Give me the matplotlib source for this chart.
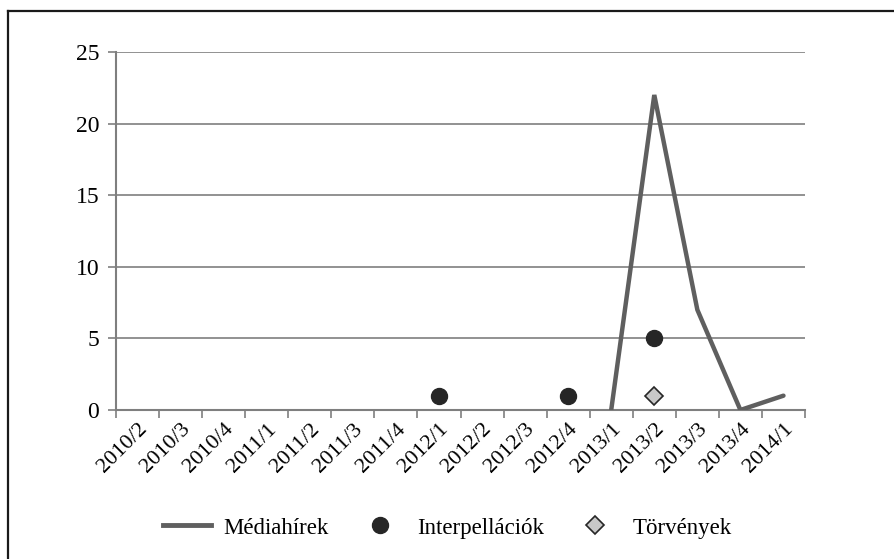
import matplotlib
matplotlib.use("Agg")
import matplotlib.pyplot as plt
import numpy as np
from matplotlib.lines import Line2D

categories = ["2010/2", "2010/3", "2010/4", "2011/1", "2011/2", "2011/3", "2011/4",
              "2012/1", "2012/2", "2012/3", "2012/4", "2013/1", "2013/2", "2013/3",
              "2013/4", "2014/1"]
media = [None]*11 + [0, 22, 7, 0, 1]
interp = [None]*7 + [1, None, None, 1, None, 5, None, None, None]
torv = [None]*12 + [1, None, None, None]
legend_labels = ["Médiahírek", "Interpellációk", "Törvények"]

plt.rcParams['font.family'] = ['Liberation Serif', 'DejaVu Serif']

W, H = 894, 559
fig = plt.figure(figsize=(W/100, H/100), dpi=100)
ax = fig.add_axes([116/W, 1-410/H, (805-116)/W, (410-52)/H])

x = np.arange(len(categories))
m = np.array([np.nan if v is None else v for v in media], float)
ip = np.array([np.nan if v is None else v for v in interp], float)
tv = np.array([np.nan if v is None else v for v in torv], float)

ax.plot(x, m, color="#5f5f5f", lw=3.2, solid_capstyle="round", solid_joinstyle="miter", zorder=3)
ax.plot(x, ip, ls="none", marker="o", ms=11.5, color="#262626", zorder=4)
ax.plot(x, tv, ls="none", marker="D", ms=9, mfc="#c8c8c8", mec="#262626", mew=1.2, zorder=4)

ax.set_xlim(-0.5, len(categories)-0.5)
ax.set_ylim(0, 25)
ax.set_yticks(range(0, 26, 5))
ax.yaxis.grid(True, color="#7f7f7f", lw=1.2)
ax.set_axisbelow(True)

ax.set_xticks(np.arange(-0.5, len(categories), 1))
ax.set_xticklabels([])
ax.set_xticks(x, minor=True)
ax.set_xticklabels(categories, minor=True, rotation=45, ha="right", va="top",
                   rotation_mode="anchor", fontsize=16)
ax.tick_params(axis="x", which="major", length=6, width=1.2, color="#7f7f7f", direction="out")
ax.tick_params(axis="x", which="minor", length=0, pad=7)
ax.tick_params(axis="y", length=6, width=1.2, color="#7f7f7f", labelsize=17, pad=6)

for s in ["top", "right"]:
    ax.spines[s].set_visible(False)
for s in ["left", "bottom"]:
    ax.spines[s].set_color("#7f7f7f")
    ax.spines[s].set_linewidth(1.5)

handles = [Line2D([], [], color="#5f5f5f", lw=3.5),
           Line2D([], [], ls="none", marker="o", ms=11.5, color="#262626"),
           Line2D([], [], ls="none", marker="D", ms=9, mfc="#c8c8c8", mec="#262626", mew=1.2)]
fig.legend(handles, legend_labels, loc="center",
           bbox_to_anchor=(0.5, 1-528/H), ncol=3, frameon=False, fontsize=16.5,
           handlelength=2.1, columnspacing=1.2, handletextpad=0.55)

# partial frame: top and left edges only
fig.add_artist(Line2D([7.5/W, 1], [1-10.5/H, 1-10.5/H], transform=fig.transFigure,
                      color="#1a1a1a", lw=1.6))
fig.add_artist(Line2D([7.5/W, 7.5/W], [0, 1-10.5/H], transform=fig.transFigure,
                      color="#1a1a1a", lw=1.6))

fig.savefig("out.png", dpi=100)
